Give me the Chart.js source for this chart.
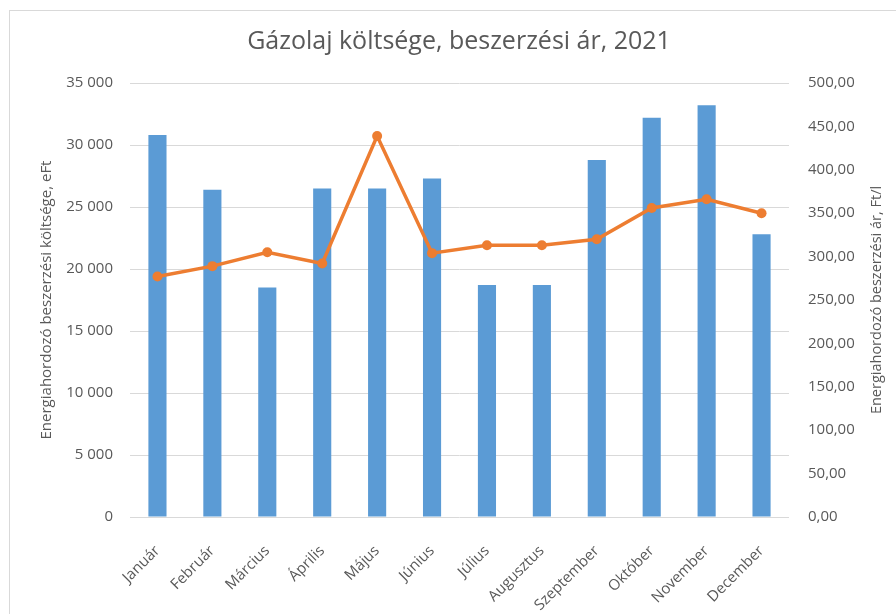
<!DOCTYPE html>
<html>
<head>
<meta charset="utf-8">
<script src="https://cdn.jsdelivr.net/npm/chart.js@4"></script>
<style>
  html, body { margin: 0; padding: 0; background: #fff; }
  #wrap { width: 896px; height: 614px; position: relative; }
  #keret { position: absolute; left: 9px; top: 10px; right: 0; bottom: 0;
           border-top: 1px solid #d9d9d9; border-left: 1px solid #d9d9d9; pointer-events: none; }
  canvas { position: absolute; left: 0; top: 0; }
</style>
</head>
<body>
<div id="wrap"><canvas id="grafica" width="896" height="614"></canvas><div id="keret"></div></div>
<script>
"use strict";

// honapok (x tengely)
const honapok = ["Január", "Február", "Március", "Április", "Május", "Június",
    "Július", "Augusztus", "Szeptember", "Október", "November", "December"];

// beszerzesi koltseg, eFt (oszlopok, bal tengely)
const koltseg = [30800, 26400, 18500, 26500, 26500, 27300, 18700, 18700, 28800, 32200, 33200, 22800];

// beszerzesi ar, Ft/l (vonal, jobb tengely)
const ar = [277, 289, 305, 292, 439, 304, 313, 313, 320, 356, 366, 350];

const cimSzoveg = "Gázolaj költsége, beszerzési ár, 2021";
const balCim = "Energiahordozó beszerzési költsége, eFt";
const jobbCim = "Energiahordozó beszerzési ár, Ft/l";

const betu = "'Open Sans', sans-serif";
const szurke = "#595959";

// jobb oldali tengelycim alulrol felfele olvashato, ezert kezzel rajzoljuk
const jobbCimPlugin = {
    id: "jobbCim",
    afterDraw(chart) {
        const c = chart.ctx;
        const y1 = chart.scales.y1;
        c.save();
        c.translate(877, (y1.top + y1.bottom) / 2);
        c.rotate(-Math.PI / 2);
        c.font = "14.5px " + betu;
        c.fillStyle = szurke;
        c.textAlign = "center";
        c.textBaseline = "middle";
        c.fillText(jobbCim, 0, 0);
        c.restore();
    }
};

const ctx = document.getElementById("grafica").getContext("2d");
new Chart(ctx, {
    type: "bar",
    data: {
        labels: honapok,
        datasets: [
            {
                type: "line",
                label: "Beszerzési ár",
                data: ar,
                yAxisID: "y1",
                borderColor: "#ED7D31",
                backgroundColor: "#ED7D31",
                borderWidth: 3.5,
                pointRadius: 5,
                pointBorderWidth: 0,
                tension: 0,
                order: 0
            },
            {
                label: "Beszerzési költség",
                data: koltseg,
                yAxisID: "y",
                backgroundColor: "#5B9BD5",
                categoryPercentage: 1,
                barPercentage: 0.33,
                order: 1
            }
        ]
    },
    options: {
        responsive: false,
        animation: false,
        layout: { padding: { left: 32, right: 10, top: 0, bottom: 0 } },
        plugins: {
            legend: { display: false },
            tooltip: { enabled: false },
            title: {
                display: true,
                text: cimSzoveg,
                color: szurke,
                font: { family: betu, size: 25, weight: "normal" },
                padding: { top: 27, bottom: 26 }
            }
        },
        scales: {
            x: {
                grid: { display: false },
                border: { display: false },
                ticks: {
                    autoSkip: false,
                    maxRotation: 45,
                    minRotation: 45,
                    color: szurke,
                    font: { family: betu, size: 15 },
                    padding: 17
                },
                afterFit(scale) { scale.height = 97; }
            },
            y: {
                position: "left",
                min: 0,
                max: 35000,
                grid: { color: "#d9d9d9", drawTicks: false },
                border: { display: false },
                ticks: {
                    stepSize: 5000,
                    color: szurke,
                    font: { family: betu, size: 15 },
                    padding: 17,
                    callback: v => String(v).replace(/\B(?=(\d{3})+(?!\d))/g, " ")
                },
                title: {
                    display: true,
                    text: balCim,
                    color: szurke,
                    font: { family: betu, size: 15 },
                    padding: { top: 6, bottom: 0 }
                },
                afterFit(scale) { scale.width = 98; }
            },
            y1: {
                position: "right",
                min: 0,
                max: 500,
                grid: { drawOnChartArea: false, drawTicks: false },
                border: { display: false },
                ticks: {
                    stepSize: 50,
                    color: szurke,
                    font: { family: betu, size: 15 },
                    padding: 19,
                    callback: v => v.toFixed(2).replace(".", ",")
                },
                afterFit(scale) { scale.width = 97; }
            }
        }
    },
    plugins: [jobbCimPlugin]
});
</script>
</body>
</html>
